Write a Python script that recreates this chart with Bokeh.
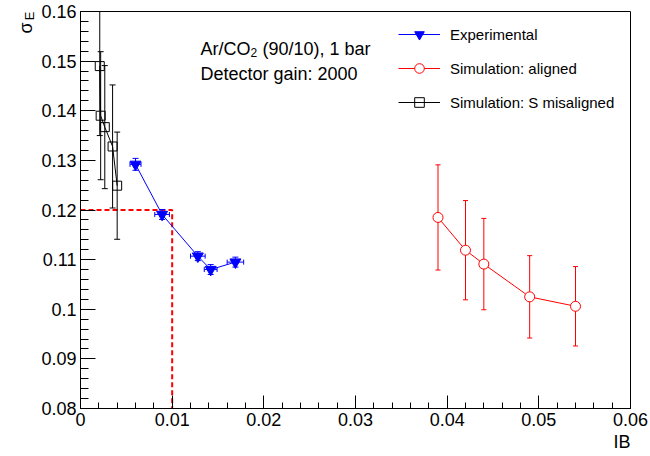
import numpy as np
from bokeh.plotting import figure
from bokeh.models import FixedTicker, Label, Legend, LegendItem, Title
from bokeh.embed import file_html
from bokeh.resources import INLINE

# ---------------- data ----------------
exp_x = [0.0060, 0.0089, 0.0128, 0.0142, 0.0169]
exp_y = [0.1292, 0.1191, 0.1107, 0.1080, 0.1095]
exp_xerr = [0.0006, 0.0008, 0.0008, 0.0007, 0.0009]
exp_yerr = [0.0012, 0.0010, 0.0009, 0.0010, 0.0010]

aligned_x = [0.0390, 0.0420, 0.0440, 0.0490, 0.0540]
aligned_y = [0.1185, 0.1119, 0.1091, 0.1025, 0.1006]
aligned_err = [0.0106, 0.0100, 0.0092, 0.0083, 0.0080]

mis_x = [0.0021, 0.0022, 0.00265, 0.0035, 0.0040]
mis_y = [0.1490, 0.1390, 0.1367, 0.1328, 0.1249]
mis_err = [0.0140, 0.0129, 0.0124, 0.0124, 0.0108]

cut_ib = 0.01
cut_sigma = 0.12

x_ticks = [0.0, 0.01, 0.02, 0.03, 0.04, 0.05, 0.06]
x_tick_labels = ["0", "0.01", "0.02", "0.03", "0.04", "0.05", "0.06"]
y_ticks = [0.08, 0.09, 0.1, 0.11, 0.12, 0.13, 0.14, 0.15, 0.16]
y_tick_labels = ["0.08", "0.09", "0.1", "0.11", "0.12", "0.13", "0.14", "0.15", "0.16"]

series_labels = ["Experimental", "Simulation: aligned", "Simulation: S misaligned"]

# ---------------- layout ----------------
W, H = 650, 456
L, R, T, B = 80, 20, 11, 48
X_RANGE = (0.0, 0.06)
Y_RANGE = (0.08, 0.16)
FONT = "Liberation Sans"


def px_x(px):
    return X_RANGE[0] + (px - L) / (W - L - R) * (X_RANGE[1] - X_RANGE[0])


def px_y(py):
    return Y_RANGE[1] - (py - T) / (H - T - B) * (Y_RANGE[1] - Y_RANGE[0])


p = figure(width=W, height=H, x_range=X_RANGE, y_range=Y_RANGE,
           output_backend="svg", toolbar_location=None,
           min_border_left=L, min_border_right=R, min_border_top=T, min_border_bottom=B)
p.xgrid.visible = False
p.ygrid.visible = False
p.outline_line_color = "black"
p.outline_line_alpha = 1.0
p.outline_line_width = 1
p.background_fill_color = "white"
p.border_fill_color = "white"

p.xaxis.ticker = FixedTicker(ticks=x_ticks, minor_ticks=list(np.round(np.arange(0, 0.0601, 0.002), 4)))
p.yaxis.ticker = FixedTicker(ticks=y_ticks, minor_ticks=list(np.round(np.arange(0.08, 0.1601, 0.002), 4)))
p.xaxis.major_label_overrides = dict(zip(x_ticks, x_tick_labels))
p.yaxis.major_label_overrides = dict(zip(y_ticks, y_tick_labels))

for ax in (p.xaxis[0], p.yaxis[0]):
    ax.axis_line_color = "black"
    ax.major_tick_line_color = "black"
    ax.minor_tick_line_color = "black"
    ax.major_tick_out = 0
    ax.minor_tick_out = 0
    ax.major_label_text_font = FONT
    ax.major_label_text_font_size = "18px"
    ax.major_label_text_color = "black"
    ax.major_label_standoff = 4
p.xaxis.major_tick_in = 13
p.xaxis.minor_tick_in = 6
p.yaxis.major_tick_in = 15
p.yaxis.minor_tick_in = 8

# ---------------- dashed cut lines ----------------
p.line([X_RANGE[0], cut_ib, cut_ib], [cut_sigma, cut_sigma, Y_RANGE[0]],
       line_color="#ff0000", line_width=2, line_dash="5 3")

# ---------------- helper for error bars ----------------
def yerrbars(x, y, e, color, cap):
    lo = [a - b for a, b in zip(y, e)]
    hi = [a + b for a, b in zip(y, e)]
    p.segment(x0=x, y0=lo, x1=x, y1=hi, line_color=color, line_width=1)
    p.scatter(x + x, lo + hi, marker="dash", size=cap, line_color=color, line_width=1)


def xerrbars(x, y, e, color, cap):
    lo = [a - b for a, b in zip(x, e)]
    hi = [a + b for a, b in zip(x, e)]
    p.segment(x0=lo, y0=y, x1=hi, y1=y, line_color=color, line_width=1)
    p.scatter(lo + hi, y + y, marker="dash", angle=np.pi / 2, size=cap, line_color=color, line_width=1)


# misaligned (black)
mis_line = p.line(mis_x, mis_y, line_color="black", line_width=1)
yerrbars(mis_x, mis_y, mis_err, "black", 6)
mis_mark = p.scatter(mis_x, mis_y, marker="square", size=9, line_color="black",
                     fill_color=None, line_width=1)

# experimental (blue)
exp_line = p.line(exp_x, exp_y, line_color="#0000ff", line_width=1)
yerrbars(exp_x, exp_y, exp_yerr, "#0000ff", 6)
xerrbars(exp_x, exp_y, exp_xerr, "#0000ff", 5)
exp_mark = p.scatter(exp_x, exp_y, marker="inverted_triangle", size=11,
                     line_color="#0000ff", fill_color="#0000ff")

# aligned (red)
al_line = p.line(aligned_x, aligned_y, line_color="#ff0000", line_width=1)
yerrbars(aligned_x, aligned_y, aligned_err, "#ff0000", 5)
al_mark = p.scatter(aligned_x, aligned_y, marker="circle", size=10, line_color="#ff0000",
                    fill_color="white", line_width=1)

# ---------------- legend ----------------
legend = Legend(items=[
    LegendItem(label=series_labels[0], renderers=[exp_line, exp_mark]),
    LegendItem(label=series_labels[1], renderers=[al_line, al_mark]),
    LegendItem(label=series_labels[2], renderers=[mis_line, mis_mark]),
], location=(318, 294))
legend.glyph_width = 42
legend.glyph_height = 24
legend.label_height = 24
legend.spacing = 10
legend.padding = 0
legend.margin = 0
legend.label_standoff = 10
legend.border_line_alpha = 0
legend.background_fill_alpha = 0
legend.label_text_font = FONT
legend.label_text_font_size = "15px"
legend.label_text_color = "black"
p.add_layout(legend)

# ---------------- texts ----------------
def add_text(text, x, y, size, align="left", angle=0.0, place="center"):
    lab = Label(x=px_x(x), y=px_y(y), text=text, text_font=FONT,
                text_font_size=f"{size}px", text_color="black",
                text_align=align, text_baseline="alphabetic", angle=angle)
    p.add_layout(lab, place)


add_text("Ar/CO", 200, 48, 18)
add_text("2", 250, 52, 12)
add_text("(90/10), 1 bar", 262, 48, 18)
add_text("Detector gain: 2000", 200, 73, 18)

# y-axis title at the top end of the axis (side panel, so it is not clipped)
add_text("\u03c3", 25, 22, 18, align="right", angle=np.pi / 2, place="left")
add_text("E", 29, 11, 13, align="right", angle=np.pi / 2, place="left")

# x-axis title at the right end of the axis
p.add_layout(Title(text="IB", align="right", text_font=FONT, text_font_size="18px",
                   text_font_style="normal", text_color="black", standoff=2), "below")

open("out.html", "w").write(file_html(p, INLINE))
